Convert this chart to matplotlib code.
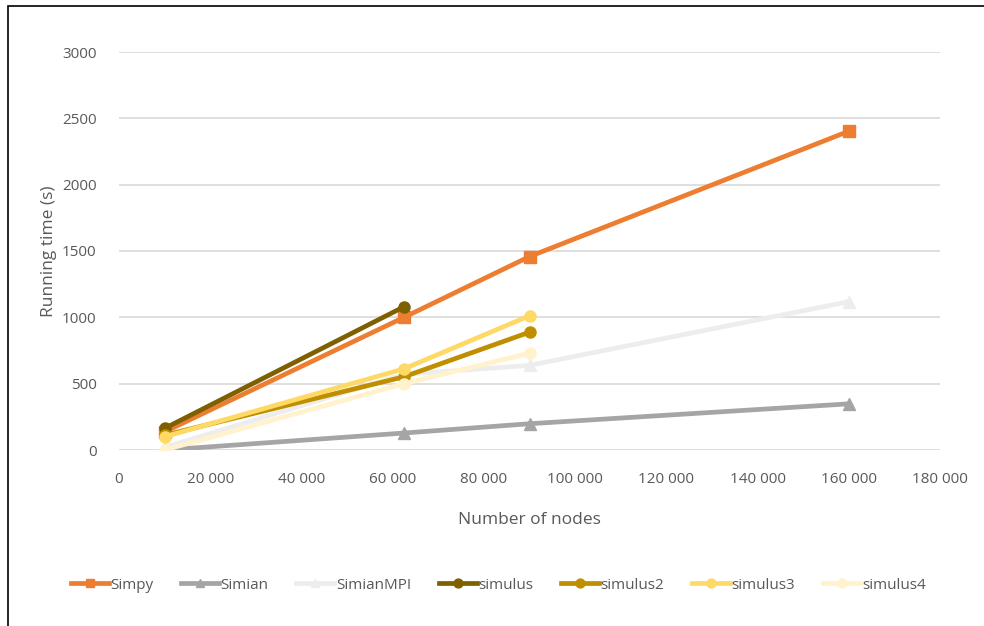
import matplotlib
matplotlib.use("Agg")
import matplotlib.pyplot as plt
from matplotlib.patches import Rectangle
from matplotlib.ticker import FuncFormatter

plt.rcParams['font.family'] = ['Open Sans', 'DejaVu Sans']

# data
series = ['Simpy', 'Simian', 'SimianMPI', 'simulus', 'simulus2', 'simulus3', 'simulus4']
nodes_long = [10000, 62500, 90000, 160000]
nodes_short = [10000, 62500, 90000]
simpy = [137, 1000, 1458, 2403]
simian = [0, 128, 198, 348]
simian_mpi = [20, 570, 638, 1118]
simulus = [163, 1080]
simulus2 = [112, 552, 888]
simulus3 = [100, 612, 1012]
simulus4 = [0, 500, 730]

colors = ['#ED7D31', '#A5A5A5', '#EDEDED', '#7F6000', '#BF8F00', '#FFD966', '#FFF2CC']
text_col = '#595959'

fig = plt.figure(figsize=(9.84, 6.26), dpi=100)
ax = fig.add_axes([119/984, 1-450/626, (940-119)/984, (450-52)/626])

# chart area border
fig.patches.append(Rectangle((8/984, -0.05), 1.1, 1.05 - 6/626, transform=fig.transFigure,
                             fill=False, edgecolor='black', linewidth=1.2))

lw = 3.4
ms = 8
ax.plot(nodes_long, simpy, color=colors[0], lw=lw, marker='s', ms=ms, label=series[0])
ax.plot(nodes_long, simian, color=colors[1], lw=lw, marker='^', ms=ms, label=series[1])
ax.plot(nodes_long, simian_mpi, color=colors[2], lw=lw, marker='^', ms=ms, label=series[2])
ax.plot(nodes_long[:2], simulus, color=colors[3], lw=lw, marker='o', ms=ms, label=series[3])
ax.plot(nodes_short, simulus2, color=colors[4], lw=lw, marker='o', ms=ms, label=series[4])
ax.plot(nodes_short, simulus3, color=colors[5], lw=lw, marker='o', ms=ms, label=series[5])
ax.plot(nodes_short, simulus4, color=colors[6], lw=lw, marker='o', ms=ms, label=series[6])

ax.set_xlim(0, 180000)
ax.set_ylim(0, 3000)
ax.set_xticks(range(0, 180001, 20000))
ax.set_yticks(range(0, 3001, 500))
ax.xaxis.set_major_formatter(FuncFormatter(lambda v, p: f"{int(v):,}".replace(',', ' ')))
ax.grid(axis='y', color='#D9D9D9', lw=1.2)
ax.set_axisbelow(True)
for s in ax.spines.values():
    s.set_visible(False)
ax.tick_params(length=0, labelsize=11, labelcolor=text_col)
ax.tick_params(axis='x', pad=16)
ax.tick_params(axis='y', pad=16)

ax.set_xlabel('Number of nodes', fontsize=12.5, color=text_col, labelpad=18)
ax.set_ylabel('Running time (s)', fontsize=12.5, color=text_col, labelpad=4)

ax.legend(loc='center', bbox_to_anchor=(0.462, -0.34), ncol=7, frameon=False,
          fontsize=11, labelcolor=text_col, handlelength=2.5, columnspacing=1.8,
          handletextpad=0.1, markerscale=0.8)

fig.savefig('out.png', dpi=100)
